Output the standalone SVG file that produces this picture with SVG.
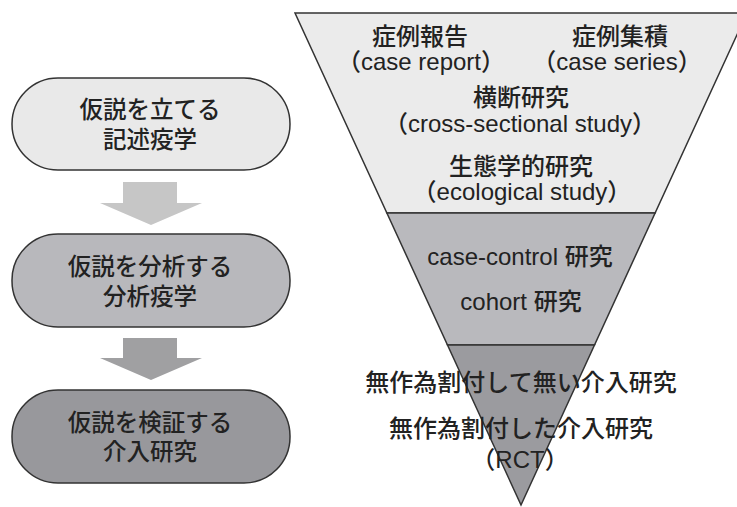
<svg xmlns="http://www.w3.org/2000/svg" width="737" height="507" viewBox="0 0 737 507">
<style>
.n{stroke:#333;stroke-width:1.5}
.t{font-family:"Liberation Sans","Noto Sans CJK JP",sans-serif;fill:#222;text-anchor:middle;font-weight:500}
.l{font-size:23.5px}
.r{font-size:24px}
</style>
<rect width="737" height="507" fill="#fff"/>
<g id="pyramid-top">
<polygon class="n" fill="#ebebeb" points="295,13 747,13 655.1,213 386.9,213"/>
<text class="t r" x="420" y="45">症例報告</text>
<text class="t r" x="421" y="70">（case report）</text>
<text class="t r" x="620" y="45">症例集積</text>
<text class="t r" x="617" y="70">（case series）</text>
<text class="t r" x="521" y="106">横断研究</text>
<text class="t r" x="520" y="132">（cross-sectional study）</text>
<text class="t r" x="521" y="175">生態学的研究</text>
<text class="t r" x="522" y="200">（ecological study）</text>
</g>
<g id="pyramid-middle">
<polygon class="n" fill="#b9b9bd" points="386.9,213 655.1,213 594.5,345 447.5,345"/>
<text class="t r" x="520" y="265">case-control 研究</text>
<text class="t r" x="521" y="310">cohort 研究</text>
</g>
<g id="pyramid-bottom">
<polygon class="n" fill="#9b9b9f" points="447.5,345 594.5,345 521,505"/>
<text class="t r" x="521" y="391">無作為割付して無い介入研究</text>
<text class="t r" x="521" y="437">無作為割付した介入研究</text>
<text class="t r" x="520" y="468">（RCT）</text>
</g>
<g id="node-descriptive">
<rect class="n" x="12" y="78" width="278" height="92" rx="46" fill="#e9e9e9"/>
<text class="t l" x="150" y="118">仮説を立てる</text>
<text class="t l" x="150" y="148">記述疫学</text>
</g>
<g id="node-analytic">
<rect class="n" x="12" y="234" width="278" height="93" rx="46" fill="#b8b8bc"/>
<text class="t l" x="150" y="275">仮説を分析する</text>
<text class="t l" x="150" y="305">分析疫学</text>
</g>
<g id="node-intervention">
<rect class="n" x="12" y="390" width="278" height="93" rx="46" fill="#98989c"/>
<text class="t l" x="150" y="431">仮説を検証する</text>
<text class="t l" x="150" y="460">介入研究</text>
</g>
<g id="connectors">
<polygon fill="#c6c6c6" points="123,182 177,182 177,203 202,203 151,225 100,203 123,203"/>
<polygon fill="#a0a0a2" points="123,338 177,338 177,358 202,358 151,380 100,358 123,358"/>
</g>
</svg>
